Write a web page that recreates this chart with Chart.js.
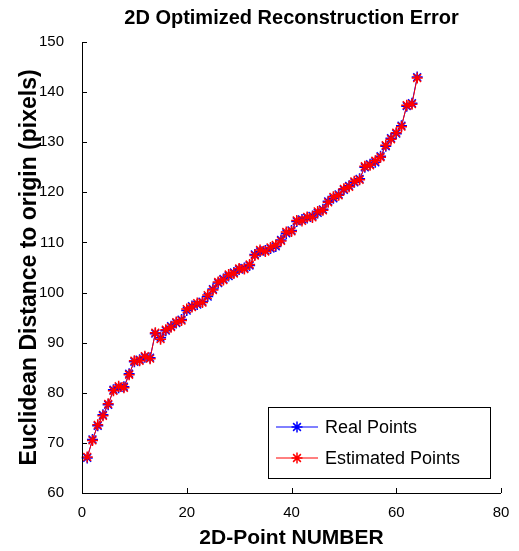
<!DOCTYPE html>
<html><head><meta charset="utf-8">
<script src="https://cdn.jsdelivr.net/npm/chart.js@4.4.0/dist/chart.umd.min.js"></script>
<style>html,body{margin:0;padding:0;background:#fff;}#wrap{width:519px;height:551px;}</style>
</head><body><div id="wrap"><canvas id="c" width="519" height="551"></canvas></div>
<script>
const pointNumbers = Array.from({length: 64}, (_, i) => i + 1);
const realDistances = [67.0,70.7,73.4,75.6,77.6,80.6,81.0,81.2,83.8,86.2,86.6,87.1,87.0,91.8,91.0,92.4,93.3,93.9,94.6,96.4,97.3,97.6,98.2,99.2,100.7,101.9,102.7,103.3,104.0,104.6,104.9,105.4,107.6,108.2,108.4,108.8,109.2,110.5,111.8,112.4,114.2,114.6,114.9,115.3,115.9,116.6,118.2,118.8,119.6,120.5,121.3,122.0,122.7,125.0,125.6,126.0,127.2,129.2,130.8,131.7,133.3,137.2,137.8,143.0];
const estimatedDistances = [67.2,70.5,73.6,75.4,77.8,80.4,81.3,81.0,83.6,86.4,86.4,87.3,86.8,92.0,90.7,92.6,93.1,94.1,94.4,96.7,97.1,97.9,98.0,99.5,100.5,102.1,102.5,103.6,103.8,104.8,104.7,105.6,107.4,108.5,108.2,109.0,109.5,110.3,112.1,112.2,114.4,114.3,115.1,115.0,116.2,116.4,118.0,119.1,119.4,120.7,121.1,122.2,122.5,125.2,125.4,126.3,127.0,129.4,130.6,131.9,133.1,137.4,137.6,142.8];
const xTicks = [0, 20, 40, 60, 80];
const yTicks = [60, 70, 80, 90, 100, 110, 120, 130, 140, 150];
const seriesLabels = ['Real Points', 'Estimated Points'];
const seriesColors = ['#0000ff', '#ff0000'];
const chartTitle = '2D Optimized Reconstruction Error';
const xTitle = '2D-Point NUMBER';
const yTitle = 'Euclidean Distance to origin (pixels)';

const FONT = 'Arial, "Liberation Sans", sans-serif';
const toXY = (ys) => ys.map((y, i) => ({x: pointNumbers[i], y}));

const axesPlugin = {
  id: 'matlabAxes',
  afterDraw(chart) {
    const {ctx, chartArea: a, scales: {x, y}} = chart;
    ctx.save();
    ctx.strokeStyle = '#000';
    ctx.lineWidth = 1;
    ctx.beginPath();
    ctx.moveTo(a.left + 0.5, a.top);
    ctx.lineTo(a.left + 0.5, a.bottom + 0.5);
    ctx.lineTo(a.right, a.bottom + 0.5);
    xTicks.forEach(v => {
      const px = Math.round(x.getPixelForValue(v)) + 0.5;
      ctx.moveTo(px, a.bottom);
      ctx.lineTo(px, a.bottom - 5);
    });
    yTicks.forEach(v => {
      const py = Math.round(y.getPixelForValue(v)) + 0.5;
      ctx.moveTo(a.left, py);
      ctx.lineTo(a.left + 5, py);
    });
    ctx.stroke();

    // legend box (bottom right, inside plot)
    const w = 222, h = 71;
    const lx = a.right - 11 - w, ly = a.bottom - 15 - h;
    ctx.fillStyle = '#fff';
    ctx.fillRect(lx, ly, w, h);
    ctx.strokeStyle = '#000';
    ctx.lineWidth = 1;
    ctx.strokeRect(Math.round(lx) + 0.5, Math.round(ly) + 0.5, w, h);
    ctx.font = '18px ' + FONT;
    ctx.textBaseline = 'middle';
    seriesLabels.forEach((lab, i) => {
      const cy = ly + 20 + i * 31;
      ctx.strokeStyle = seriesColors[i];
      ctx.lineWidth = 1;
      ctx.beginPath();
      ctx.moveTo(lx + 8, cy);
      ctx.lineTo(lx + 50, cy);
      ctx.stroke();
      ctx.lineWidth = 1.5;
      Chart.helpers.drawPoint(ctx, {pointStyle: 'star', radius: 5.5, borderWidth: 1.5}, lx + 29, cy);
      ctx.fillStyle = '#000';
      ctx.fillText(lab, lx + 57, cy + 1);
    });
    ctx.restore();
  }
};

const ds = (i, data, order) => ({
  label: seriesLabels[i],
  data: toXY(data),
  order: order,
  borderColor: seriesColors[i],
  backgroundColor: seriesColors[i],
  borderWidth: 1,
  pointStyle: 'star',
  pointRadius: 5.5,
  pointBorderWidth: 1.5,
  pointBorderColor: seriesColors[i],
  pointHoverRadius: 5.5,
  tension: 0,
  clip: false
});

new Chart(document.getElementById('c'), {
  type: 'line',
  data: { datasets: [ds(0, realDistances, 1), ds(1, estimatedDistances, 0)] },
  options: {
    responsive: false,
    animation: false,
    events: [],
    layout: { padding: { left: 16, right: 18, top: 0, bottom: 0 } },
    plugins: {
      legend: { display: false },
      tooltip: { enabled: false },
      title: {
        display: true, fullSize: false, text: chartTitle, color: '#000',
        font: { family: FONT, size: 20, weight: 'bold' },
        padding: { top: 6, bottom: 12 }
      }
    },
    scales: {
      x: {
        type: 'linear', min: 0, max: 80,
        afterBuildTicks: s => { s.ticks = xTicks.map(v => ({value: v})); },
        afterFit: s => { s.height = 58; },
        grid: { display: false },
        border: { display: false },
        ticks: { color: '#000', padding: 3, maxRotation: 0, font: { family: FONT, size: 15 } },
        title: { display: true, text: xTitle, color: '#000', padding: 0,
          font: { family: FONT, size: 21, weight: 'bold' } }
      },
      y: {
        type: 'linear', min: 60, max: 150,
        afterBuildTicks: s => { s.ticks = yTicks.map(v => ({value: v})); },
        afterFit: s => { s.width = 66; },
        grid: { display: false },
        border: { display: false },
        ticks: { color: '#000', padding: 10, font: { family: FONT, size: 15 } },
        title: { display: true, text: yTitle, color: '#000', padding: 0,
          font: { family: FONT, size: 23, weight: 'bold' } }
      }
    }
  },
  plugins: [axesPlugin]
});
</script>
</body></html>
